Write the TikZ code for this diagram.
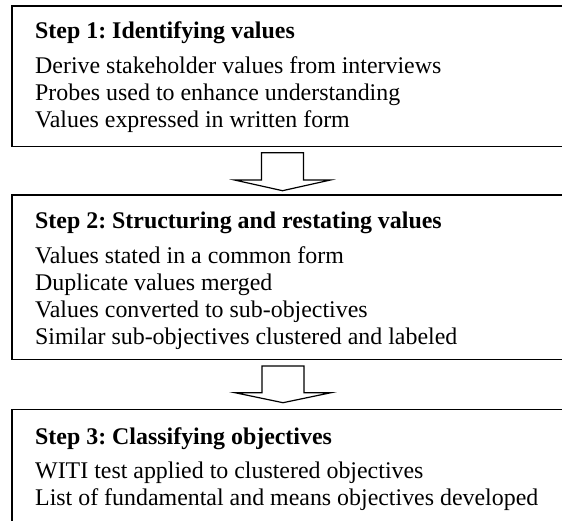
\documentclass[tikz,border=0pt]{standalone}
\usepackage{fontspec}
\setmainfont{Liberation Serif}
\frenchspacing
\begin{document}
\begin{tikzpicture}[x=1pt,y=-1pt,
  box/.style={draw, line width=1.6pt, inner sep=0pt, outer sep=0pt, anchor=north west, minimum width=600pt},
  ttl/.style={anchor=base west, inner sep=0pt, font=\fontsize{23.9}{27}\selectfont\bfseries},
  txt/.style={anchor=base west, inner sep=0pt, font=\fontsize{23.9}{27}\selectfont},
  blockarrow/.style={draw, line width=1.2pt, fill=white, line join=miter}]
\useasboundingbox (0,0) rectangle (562,521);
\clip (0,0) rectangle (562,521);
% boxes
\node[box, minimum height=140.7pt] (b1) at (12,6) {};
\node[box, minimum height=164.5pt] (b2) at (12,195) {};
\node[box, minimum height=200pt] (b3) at (12,409.3) {};
% block arrows
\draw[blockarrow, shift={(282.5,152.7)}] (-21,0) -- (21,0) -- (21,27.3) -- (48,27.3) -- (0,38) -- (-48,27.3) -- (-21,27.3) -- cycle;
\draw[blockarrow, shift={(283,366)}] (-21,0) -- (21,0) -- (21,26.7) -- (48,26.7) -- (0,36.7) -- (-48,26.7) -- (-21,26.7) -- cycle;
% step 1
\node[ttl] (t1) at (35,39) {Step 1: Identifying values};
\node[txt] (t1a) at (35,74) {Derive stakeholder values from interviews};
\node[txt] (t1b) at (35,101) {Probes used to enhance understanding};
\node[txt] (t1c) at (35,127.7) {Values expressed in written form};
% step 2
\node[ttl] (t2) at (35,229) {Step 2: Structuring and restating values};
\node[txt] (t2a) at (35,263.3) {Values stated in a common form};
\node[txt] (t2b) at (35,290.5) {Duplicate values merged};
\node[txt] (t2c) at (35,317.5) {Values converted to sub-objectives};
\node[txt] (t2d) at (35,344) {Similar sub-objectives clustered and labeled};
% step 3
\node[ttl] (t3) at (35,444) {Step 3: Classifying objectives};
\node[txt] (t3a) at (35,478.3) {WITI test applied to clustered objectives};
\node[txt] (t3b) at (35,505) {List of fundamental and means objectives developed};
\end{tikzpicture}
\end{document}
